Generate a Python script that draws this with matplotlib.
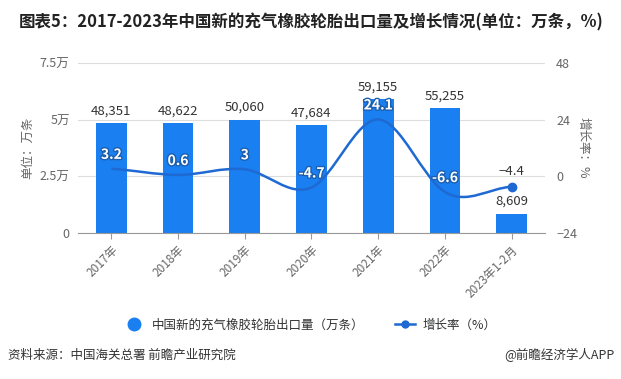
import numpy as np
import matplotlib.pyplot as plt
from matplotlib.path import Path
from matplotlib.patches import PathPatch
from matplotlib.lines import Line2D
import matplotlib.patheffects as pe

plt.rcParams['font.family'] = ['Noto Sans CJK SC', 'DejaVu Sans']

categories = ['2017年', '2018年', '2019年', '2020年', '2021年', '2022年', '2023年1-2月']
exports = [48351, 48622, 50060, 47684, 59155, 55255, 8609]   # 万条
growth = [3.2, 0.6, 3, -4.7, 24.1, -6.6, -4.4]                # %
yticks_left = [0, 25000, 50000, 75000]
ylabels_left = ['0', '2.5万', '5万', '7.5万']
yticks_right = [-24, 0, 24, 48]

bar_color = '#1a7ff0'
line_color = '#1f69d2'
txt = '#333333'
tick_c = '#666666'

fig = plt.figure(figsize=(6.21, 3.79), dpi=100)
ax = fig.add_axes([0.1256, 0.385, 0.752, 0.449])
ax2 = ax.twinx()

x = np.arange(len(categories))
ax.bar(x, exports, width=0.46, color=bar_color, zorder=2)
for xi, v in zip(x, exports):
    ax.annotate(f'{v:,}', (xi, v), xytext=(0, 4), textcoords='offset points',
                ha='center', va='bottom', fontsize=9.5, color=txt, zorder=5)

ax.set_xlim(-0.5, len(categories) - 0.5)
ax.set_ylim(0, 75000)
ax.set_yticks(yticks_left)
ax.set_yticklabels(ylabels_left)
ax.set_xticks(x)
ax.set_xticklabels(categories, rotation=45, ha='right', rotation_mode='anchor')
ax.grid(axis='y', color='#dddddd', linewidth=0.8, zorder=0)
ax.set_axisbelow(True)
for s in ['top', 'right', 'left']:
    ax.spines[s].set_visible(False)
ax.spines['bottom'].set_color('#999999')
ax.tick_params(axis='y', length=0, labelsize=9, labelcolor=tick_c, pad=6)
ax.tick_params(axis='x', length=4, color='#999999', labelsize=8.5, labelcolor=tick_c)
ax.set_ylabel('单位：万条', fontsize=9, color=tick_c, labelpad=4)

# smooth growth-rate line (Catmull-Rom as cubic Bezier)
ax2.set_ylim(-24, 48)
ax2.set_yticks(yticks_right)
ax2.tick_params(axis='y', length=0, labelsize=9, labelcolor=tick_c, pad=8)
for s in ax2.spines.values():
    s.set_visible(False)
g = np.array(growth, dtype=float)
verts = [(x[0], g[0])]
codes = [Path.MOVETO]
t = 0.2
for i in range(len(x) - 1):
    p0 = g[i - 1] if i > 0 else g[i]
    p3 = g[i + 2] if i + 2 < len(g) else g[i + 1]
    c1 = (x[i] + 1 / 3, g[i] + (g[i + 1] - p0) * t)
    c2 = (x[i + 1] - 1 / 3, g[i + 1] - (p3 - g[i]) * t)
    verts += [c1, c2, (x[i + 1], g[i + 1])]
    codes += [Path.CURVE4] * 3
ax2.add_patch(PathPatch(Path(verts, codes), fill=False, edgecolor=line_color, lw=1.8, zorder=3))
ax2.plot(x[-1], g[-1], 'o', color=line_color, ms=6, zorder=4)
ax2.set_ylabel('增长率：%', fontsize=9, color=tick_c, rotation=270, labelpad=9)

for i, (xi, v) in enumerate(zip(x, g)):
    label = f'{v:g}'.replace('-', '−') if i == len(g) - 1 else f'{v:g}'
    if i == len(g) - 1:
        ax2.annotate(label, (xi, v), xytext=(0, 6), textcoords='offset points',
                     ha='center', va='bottom', fontsize=9.5, color=txt, zorder=6)
    else:
        ax2.annotate(label, (xi, v), xytext=(0, 5), textcoords='offset points',
                     ha='center', va='bottom', fontsize=10, color='white', zorder=6,
                     fontweight='bold',
                     path_effects=[pe.withStroke(linewidth=2, foreground='#1a5fb0')])

handles = [Line2D([], [], marker='o', color=bar_color, ls='none', ms=9),
           Line2D([], [], marker='o', color=line_color, lw=1.8, ms=5)]
fig.legend(handles, ['中国新的充气橡胶轮胎出口量（万条）', '增长率（%）'],
           loc='center', bbox_to_anchor=(0.5, 0.142), ncol=2, frameon=False,
           fontsize=9, handlelength=1.6, columnspacing=2.5, handletextpad=0.6,
           labelcolor=txt)

fig.text(0.03, 0.94, '图表5：2017-2023年中国新的充气橡胶轮胎出口量及增长情况(单位：万条，%)',
         fontsize=11.9, fontweight='bold', color='#222222', va='center')
fig.text(0.013, 0.062, '资料来源：中国海关总署 前瞻产业研究院', fontsize=9, color=txt, va='center')
fig.text(0.99, 0.062, '@前瞻经济学人APP', fontsize=9, color=txt, va='center', ha='right')

fig.savefig('out.png', dpi=100)
